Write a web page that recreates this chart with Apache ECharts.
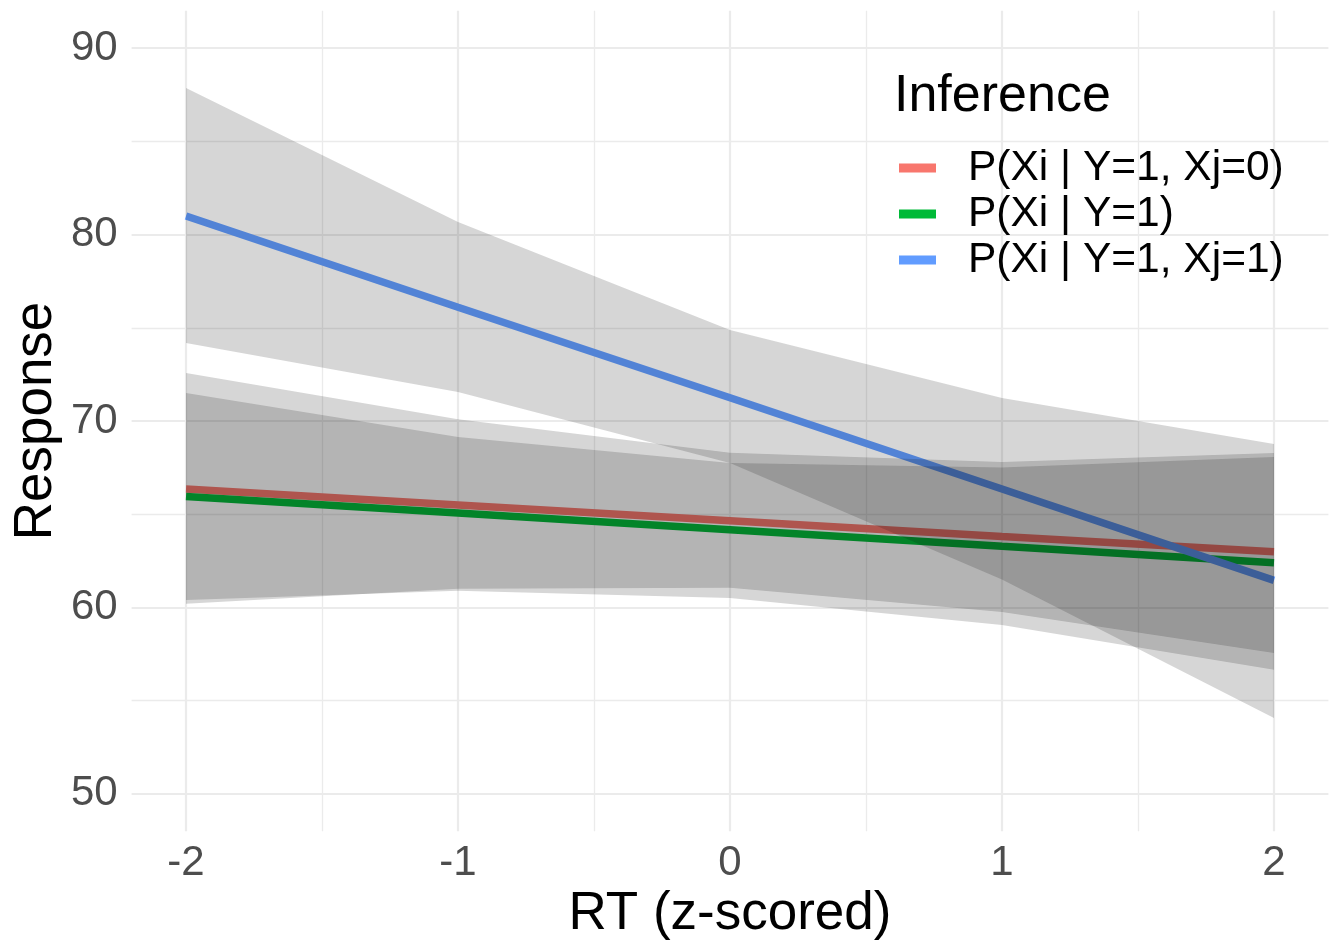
<!DOCTYPE html>
<html>
<head>
<meta charset="utf-8">
<script src="https://cdn.jsdelivr.net/npm/echarts@6/dist/echarts.min.js"></script>
<style>
html,body{margin:0;padding:0;background:#ffffff;}
#chart{width:1333px;height:940px;}
</style>
</head>
<body>
<div id="chart"></div>
<script>
// ---- data ----
const xValues = [-2, -1, 0, 1, 2];
const seriesNames = ['P(Xi | Y=1, Xj=0)', 'P(Xi | Y=1)', 'P(Xi | Y=1, Xj=1)'];
const seriesColors = ['#F8766D', '#00BA38', '#619CFF'];

const fitXj0 = [66.35, 65.50, 64.65, 63.80, 62.98];
const lowerXj0 = [60.20, 61.00, 61.05, 59.76, 57.56];
const upperXj0 = [72.57, 70.10, 68.30, 67.80, 68.28];

const fitY1 = [65.95, 65.06, 64.17, 63.28, 62.40];
const lowerY1 = [60.40, 60.90, 60.50, 59.06, 56.65];
const upperY1 = [71.50, 69.14, 67.75, 67.50, 68.07];

const fitXj1 = [81.00, 76.10, 71.25, 66.35, 61.45];
const lowerXj1 = [74.18, 71.56, 67.75, 61.50, 54.07];
const upperXj1 = [87.86, 80.67, 74.88, 71.23, 68.77];

const xMinorBreaks = [-1.5, -0.5, 0.5, 1.5];
const yMinorBreaks = [55, 65, 75, 85];

const fits = [fitXj0, fitY1, fitXj1];
const lowers = [lowerXj0, lowerY1, lowerXj1];
const uppers = [upperXj0, upperY1, upperXj1];

const FONT = "'Liberation Sans', Arial, sans-serif";
const GRID = '#ebebeb';

function pairs(ys) { return xValues.map((x, i) => [x, ys[i]]); }

const series = [];

// minor grid lines (bottom layer)
series.push({
  type: 'line', name: 'minor-grid', data: [], z: 0, zlevel: 0, silent: true,
  markLine: {
    silent: true, symbol: 'none', animation: false,
    label: { show: false },
    lineStyle: { color: GRID, width: 1.3, type: 'solid' },
    emphasis: { disabled: true },
    data: xMinorBreaks.map(v => ({ xAxis: v })).concat(yMinorBreaks.map(v => ({ yAxis: v })))
  }
});

// fitted lines (middle layer)
fits.forEach((f, k) => {
  series.push({
    type: 'line', name: seriesNames[k], data: pairs(f), z: 2, zlevel: 1,
    showSymbol: false, symbol: 'none', silent: true,
    lineStyle: { color: seriesColors[k], width: 7.5, cap: 'butt' },
    itemStyle: { color: seriesColors[k] }
  });
});

// confidence ribbons (top layer, drawn over the lines as in the reference)
fits.forEach((f, k) => {
  const lo = lowers[k], up = uppers[k];
  series.push({
    type: 'custom', name: seriesNames[k] + ' band', coordinateSystem: 'cartesian2d',
    z: 3 + k, zlevel: 2, silent: true,
    data: [[xValues[0], lo[0]]],
    encode: { x: 0, y: 1 },
    renderItem: function (params, api) {
      const pts = [];
      for (let i = 0; i < xValues.length; i++) pts.push(api.coord([xValues[i], up[i]]));
      for (let i = xValues.length - 1; i >= 0; i--) pts.push(api.coord([xValues[i], lo[i]]));
      return { type: 'polygon', shape: { points: pts }, style: { fill: 'rgba(14,14,14,0.17)', stroke: null } };
    }
  });
});

const chart = echarts.init(document.getElementById('chart'), null, { renderer: 'canvas' });
chart.setOption({
  animation: false,
  backgroundColor: '#ffffff',
  textStyle: { fontFamily: FONT },
  grid: { left: 131.6, right: 4.6, top: 10.7, bottom: 108.7, containLabel: false, outerBoundsMode: 'none' },
  title: {
    text: 'Inference', left: 894, top: 67, padding: 0,
    textStyle: { fontFamily: FONT, fontSize: 52, fontWeight: 'normal', color: '#000000', lineHeight: 60 }
  },
  legend: {
    data: seriesNames,
    orient: 'vertical', left: 899, top: 145, padding: 0,
    itemWidth: 37, itemHeight: 9, itemGap: 0, icon: 'rect',
    selectedMode: false,
    textStyle: { fontFamily: FONT, fontSize: 42.5, lineHeight: 46, color: '#000000', padding: [0, 0, 0, 27] }
  },
  xAxis: {
    type: 'value', min: -2.2, max: 2.2, z: 0, zlevel: 0,
    name: 'RT (z-scored)', nameLocation: 'middle', nameGap: 53, nameMoveOverlap: false,
    nameTextStyle: { fontFamily: FONT, fontSize: 53, color: '#000000', lineHeight: 60 },
    axisLine: { show: false }, axisTick: { show: false },
    axisLabel: { fontFamily: FONT, fontSize: 42, color: '#4d4d4d', margin: 9, lineHeight: 46,
      showMinLabel: false, showMaxLabel: false },
    splitLine: { show: true, showMinLine: false, showMaxLine: false, lineStyle: { color: GRID, width: 2.2 } }
  },
  yAxis: {
    type: 'value', min: 47.99, max: 92.01, z: 0, zlevel: 0,
    name: 'Response', nameLocation: 'middle', nameGap: 65, nameMoveOverlap: false,
    nameTextStyle: { fontFamily: FONT, fontSize: 53, color: '#000000', lineHeight: 60 },
    axisLine: { show: false }, axisTick: { show: false },
    axisLabel: { fontFamily: FONT, fontSize: 42, color: '#4d4d4d', margin: 14,
      showMinLabel: false, showMaxLabel: false },
    splitLine: { show: true, showMinLine: false, showMaxLine: false, lineStyle: { color: GRID, width: 2.2 } }
  },
  series: series
});
</script>
</body>
</html>
